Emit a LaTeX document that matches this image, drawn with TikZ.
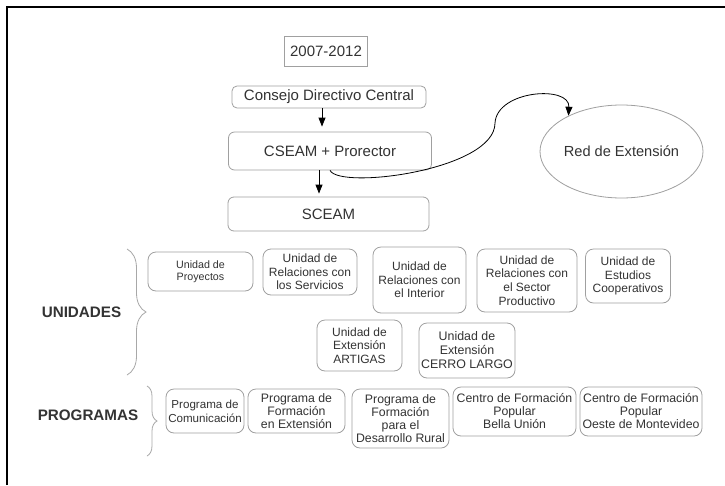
\documentclass[tikz,border=0pt]{standalone}
\usepackage{fontspec}
\setmainfont{Liberation Sans}
\usetikzlibrary{arrows.meta,shapes.geometric,decorations.pathreplacing}
\definecolor{txt}{HTML}{333333}
\definecolor{boxgray}{HTML}{A0A0A0}
\definecolor{bracegray}{HTML}{A8A8A8}
\tikzset{
  topbox/.style={draw=boxgray, line width=0.8pt, rounded corners=5pt, inner sep=0pt, text=txt, font=\fontsize{15}{18}\selectfont},
  unitbox/.style={draw=boxgray, line width=0.8pt, rounded corners=8pt, inner sep=0pt, align=center, text=txt, font=\fontsize{12}{13.6}\selectfont},
  progbox/.style={draw=boxgray, line width=0.8pt, rounded corners=8pt, inner sep=0pt, align=center, text=txt, font=\fontsize{12.3}{13}\selectfont},
  grouplabel/.style={inner sep=0pt, text=txt, font=\fontsize{15.2}{18}\selectfont\bfseries},
  arr/.style={draw=black, line width=0.8pt, -{Triangle[length=9pt,width=7pt]}},
  bracestyle/.style={draw=bracegray, line width=0.8pt, decorate, decoration={brace, amplitude=19pt}},
}
\begin{document}
\begin{tikzpicture}[x=1pt,y=-1pt]
\useasboundingbox (0,0) rectangle (725,485);
\fill[white] (0,0) rectangle (725,485);
% frame
\draw[black, line width=1.6pt] (7,485) -- (7,7) -- (725,7);

% top
\node[topbox, rounded corners=0pt, minimum width=83pt, minimum height=30pt] (year) at (326,51.7) {2007-2012};
\node[topbox, minimum width=194pt, minimum height=22pt] (consejo) at (329,97) {Consejo Directivo Central};
\node[topbox, rounded corners=6pt, minimum width=203pt, minimum height=38pt] (cseam) at (330,151) {CSEAM + Prorector};
\node[topbox, rounded corners=6pt, minimum width=201pt, minimum height=34pt] (sceam) at (328.5,214) {SCEAM};
\node[ellipse, draw=boxgray, line width=0.8pt, inner sep=0pt, minimum width=141pt, minimum height=93pt, text=txt, font=\fontsize{14.6}{18}\selectfont] (red) at (621.5,151.5) {Red de Extensión};

\coordinate (ax1) at (322,0);
\coordinate (ax2) at (319,0);
\draw[arr, shorten >=5pt] (consejo.south -| ax1) -- (cseam.north -| ax1);
\draw[arr, shorten >=3pt] (cseam.south -| ax2) -- (sceam.north -| ax2);
\draw[arr] (cseam.south) .. controls (340,190) and (495,170) .. (495,123)
  .. controls (497,90) and (570,85) .. (red.146);

% unidades
\node[unitbox, minimum width=105pt, minimum height=39pt, font=\fontsize{10.7}{11.5}\selectfont] (proy) at (200.5,271.5) {Unidad de\\Proyectos};
\node[unitbox, minimum width=94pt, minimum height=46pt] (serv) at (310,272) {Unidad de\\Relaciones con\\los Servicios};
\node[unitbox, minimum width=93pt, minimum height=66pt] (inter) at (419.5,280) {Unidad de\\Relaciones con\\el Interior};
\node[unitbox, minimum width=100pt, minimum height=63pt] (sector) at (527,280.5) {Unidad de\\Relaciones con\\el Sector\\Productivo};
\node[unitbox, minimum width=85pt, minimum height=54pt] (coop) at (628,276) {Unidad de\\Estudios\\Cooperativos};
\node[unitbox, minimum width=85pt, minimum height=51pt] (artigas) at (359.5,345.5) {Unidad de\\Extensión\\ARTIGAS};
\node[unitbox, minimum width=96pt, minimum height=55pt, font=\fontsize{12.4}{14}\selectfont] (cerro) at (467,350.5) {Unidad de\\Extensión\\CERRO LARGO};

% programas
\node[progbox, minimum width=78pt, minimum height=44pt, font=\fontsize{11.6}{14}\selectfont] (com) at (205,411) {Programa de\\Comunicación};
\node[progbox, minimum width=97pt, minimum height=44pt] (form) at (296.5,411) {Programa de\\Formación\\en Extensión};
\node[progbox, minimum width=97pt, minimum height=59pt] (rural) at (400.5,418.5) {Programa de\\Formación\\para el\\Desarrollo Rural};
\node[progbox, minimum width=123pt, minimum height=49pt] (bella) at (514.5,411.5) {Centro de Formación\\Popular\\Bella Unión};
\node[progbox, minimum width=122pt, minimum height=49pt] (oeste) at (641,411.5) {Centro de Formación\\Popular\\Oeste de Montevideo};

% labels and braces
\node[grouplabel] (unid) at (81.5,312) {UNIDADES};
\node[grouplabel] (prog) at (88,415) {PROGRAMAS};
\coordinate (b1t) at (127,249);
\coordinate (b1b) at (127,375);
\coordinate (b2t) at (147,386);
\coordinate (b2b) at (147,456);
\draw[bracestyle] (b1t) -- (b1b);
\draw[bracestyle, decoration={brace, amplitude=10pt}] (b2t) -- (b2b);
\end{tikzpicture}
\end{document}
